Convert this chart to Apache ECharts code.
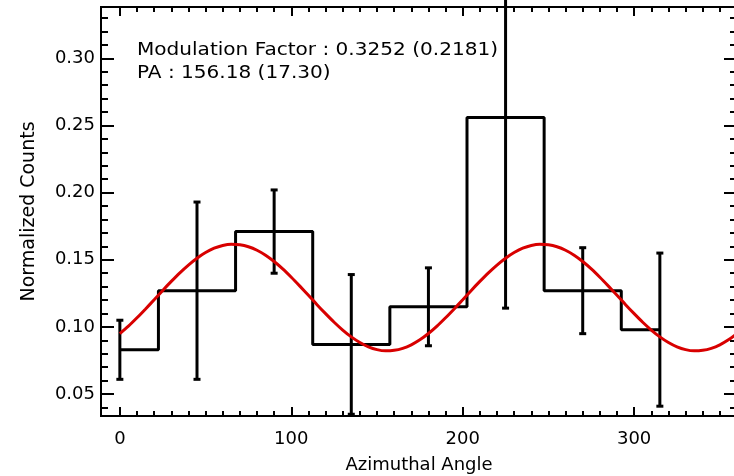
<!DOCTYPE html>
<html>
<head>
<meta charset="utf-8">
<title>Modulation curve</title>
<script src="https://cdn.jsdelivr.net/npm/echarts@6/dist/echarts.min.js"></script>
<style>
  html, body { margin: 0; padding: 0; background: #fff; }
  #chart { width: 734px; height: 476px; }
</style>
</head>
<body>
<div id="chart"></div>
<script>
// Binned azimuthal distribution (bin centres in degrees)
const angles = [0, 45, 90, 135, 180, 225, 270, 315];
const counts = [0.083, 0.127, 0.171, 0.087, 0.115, 0.256, 0.127, 0.098];
const errors = [0.022, 0.066, 0.031, 0.052, 0.029, 0.142, 0.032, 0.057];

// Fitted modulation curve, sampled every 5 degrees
const fitAngles = [
  0, 5, 10, 15, 20, 25, 30, 35, 40, 45, 50, 55, 60, 65, 70, 75, 80, 85, 90,
  95, 100, 105, 110, 115, 120, 125, 130, 135, 140, 145, 150, 155, 160, 165, 170, 175, 180,
  185, 190, 195, 200, 205, 210, 215, 220, 225, 230, 235, 240, 245, 250, 255, 260, 265, 270,
  275, 280, 285, 290, 295, 300, 305, 310, 315, 320, 325, 330, 335, 340, 345, 350, 355, 360
];
const fitValues = [
  0.0951, 0.1006, 0.1068, 0.1134, 0.1202, 0.1272, 0.1339, 0.1403, 0.1461, 0.1512,
  0.1554, 0.1586, 0.1607, 0.1616, 0.1612, 0.1597, 0.1571, 0.1534, 0.1487,
  0.1432, 0.1370, 0.1304, 0.1236, 0.1166, 0.1099, 0.1035, 0.0977, 0.0926, 0.0884,
  0.0852, 0.0831, 0.0822, 0.0826, 0.0841, 0.0867, 0.0904, 0.0951,
  0.1006, 0.1068, 0.1134, 0.1202, 0.1272, 0.1339, 0.1403, 0.1461, 0.1512,
  0.1554, 0.1586, 0.1607, 0.1616, 0.1612, 0.1597, 0.1571, 0.1534, 0.1487,
  0.1432, 0.1370, 0.1304, 0.1236, 0.1166, 0.1099, 0.1035, 0.0977, 0.0926, 0.0884,
  0.0852, 0.0831, 0.0822, 0.0826, 0.0841, 0.0867, 0.0904, 0.0951
];

// Tick positions
const xMajor = [0, 100, 200, 300];
const xMinor = [10, 20, 30, 40, 50, 60, 70, 80, 90, 110, 120, 130, 140, 150, 160, 170, 180, 190,
                210, 220, 230, 240, 250, 260, 270, 280, 290, 310, 320, 330, 340, 350];
const yMajor = [0.05, 0.10, 0.15, 0.20, 0.25, 0.30];
const yMinor = [0.04, 0.06, 0.07, 0.08, 0.09, 0.11, 0.12, 0.13, 0.14, 0.16, 0.17, 0.18, 0.19,
                0.21, 0.22, 0.23, 0.24, 0.26, 0.27, 0.28, 0.29, 0.31, 0.32, 0.33];

const annotation = ['Modulation Factor : 0.3252 (0.2181)', 'PA : 156.18 (17.30)'];

const FONT = 'DejaVu Sans';
const X_RANGE = [-11, 360];
const Y_RANGE = [0.0337, 0.3382];

function xAxisDef(position, ticks, len, withLabels) {
  return {
    type: 'value', position: position, min: X_RANGE[0], max: X_RANGE[1],
    axisLine: { show: true, onZero: false, lineStyle: { color: '#000', width: 2 } },
    axisTick: { show: true, inside: true, length: len, customValues: ticks,
                lineStyle: { color: '#000', width: 2 } },
    axisLabel: withLabels
      ? { show: true, customValues: ticks, margin: 14, color: '#000', fontFamily: FONT, fontSize: 18 }
      : { show: false },
    splitLine: { show: false }
  };
}
function yAxisDef(position, ticks, len, withLabels) {
  return {
    type: 'value', position: position, min: Y_RANGE[0], max: Y_RANGE[1],
    axisLine: { show: true, onZero: false, lineStyle: { color: '#000', width: 2 } },
    axisTick: { show: true, inside: true, length: len, customValues: ticks,
                lineStyle: { color: '#000', width: 2 } },
    axisLabel: withLabels
      ? { show: true, customValues: ticks, margin: 6, color: '#000', fontFamily: FONT, fontSize: 18,
          formatter: v => v.toFixed(2) }
      : { show: false },
    splitLine: { show: false }
  };
}

const xAxes = [
  xAxisDef('bottom', xMajor, 9, true),
  xAxisDef('bottom', xMinor, 5, false),
  xAxisDef('top', xMajor, 9, false),
  xAxisDef('top', xMinor, 5, false)
];
Object.assign(xAxes[0], {
  name: 'Azimuthal Angle', nameLocation: 'middle', nameGap: 40,
  nameTextStyle: { color: '#000', fontFamily: FONT, fontSize: 18 }
});

const yAxes = [
  yAxisDef('left', yMajor, 13, true),
  yAxisDef('left', yMinor, 7, false),
  yAxisDef('right', yMajor, 13, false),
  yAxisDef('right', yMinor, 7, false)
];
Object.assign(yAxes[0], {
  name: 'Normalized Counts', nameLocation: 'middle', nameGap: 62,
  nameTextStyle: { color: '#000', fontFamily: FONT, fontSize: 19 }
});

const chart = echarts.init(document.getElementById('chart'), null, { renderer: 'canvas' });

chart.setOption({
  animation: false,
  backgroundColor: '#fff',
  grid: { left: 101, top: 7, width: 636, height: 409, containLabel: false, outerBoundsMode: 'none' },
  xAxis: xAxes,
  yAxis: yAxes,
  graphic: [
    { type: 'text', x: 137, y: 42, scaleX: 1.18, z: 100,
      style: { text: annotation[0], fill: '#000', font: '17px "DejaVu Sans"' } },
    { type: 'text', x: 137, y: 65, scaleX: 1.18, z: 100,
      style: { text: annotation[1], fill: '#000', font: '17px "DejaVu Sans"' } }
  ],
  series: [
    {
      // histogram drawn as a stepped line through the bin centres
      type: 'line', step: 'middle', xAxisIndex: 0, yAxisIndex: 0,
      data: angles.map((a, i) => [a, counts[i]]),
      showSymbol: false, symbol: 'none',
      lineStyle: { color: '#000', width: 3 }, z: 2
    },
    {
      // 1-sigma error bars
      type: 'custom', xAxisIndex: 0, yAxisIndex: 0, clip: false, z: 3,
      data: angles.map((a, i) => [a, counts[i], errors[i]]),
      renderItem: function (params, api) {
        const x = api.value(0), y = api.value(1), e = api.value(2);
        const top = api.coord([x, y + e]);
        const bot = api.coord([x, y - e]);
        const cap = 3.5;
        const style = { stroke: '#000', lineWidth: 3 };
        return {
          type: 'group',
          children: [
            { type: 'line', shape: { x1: top[0], y1: top[1], x2: bot[0], y2: bot[1] }, style: style },
            { type: 'line', shape: { x1: top[0] - cap, y1: top[1], x2: top[0] + cap, y2: top[1] }, style: style },
            { type: 'line', shape: { x1: bot[0] - cap, y1: bot[1], x2: bot[0] + cap, y2: bot[1] }, style: style }
          ]
        };
      }
    },
    {
      // fitted cos^2 modulation
      type: 'line', xAxisIndex: 0, yAxisIndex: 0, smooth: 0.3,
      data: fitAngles.map((a, i) => [a, fitValues[i]]),
      showSymbol: false, symbol: 'none',
      lineStyle: { color: '#d80000', width: 3 }, z: 4
    }
  ]
});
</script>
</body>
</html>
